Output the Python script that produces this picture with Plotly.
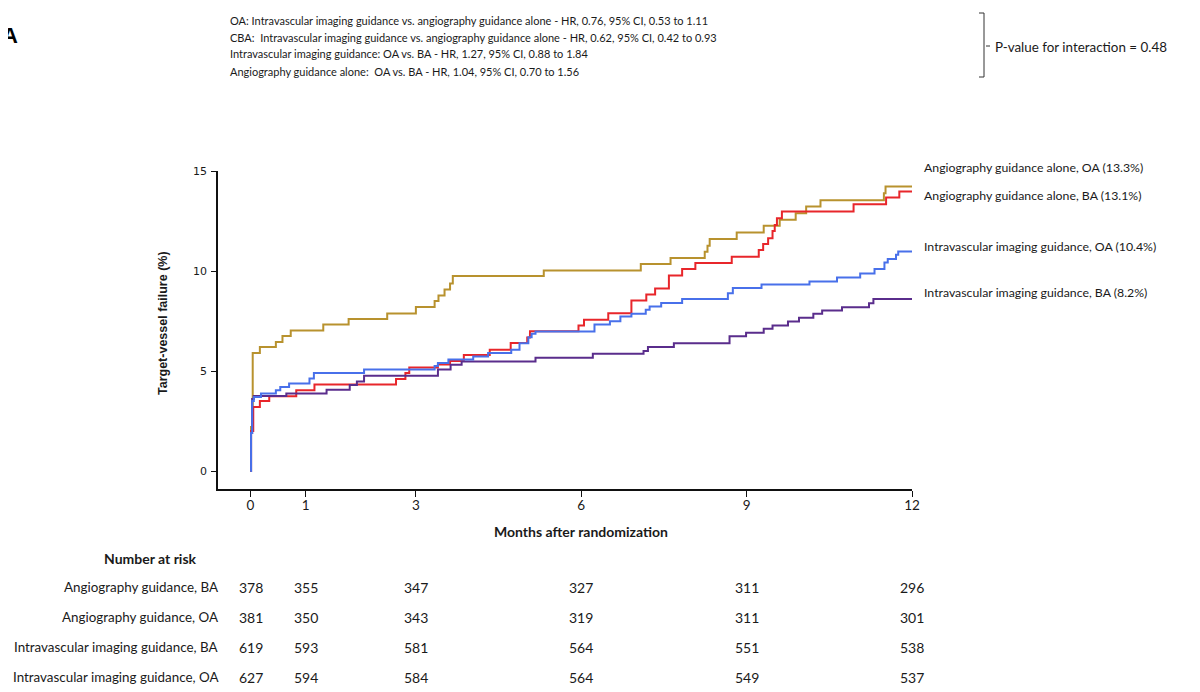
import plotly.graph_objects as go

# ---------------- data ----------------
ang_oa_t = [0, 0.01, 0.04, 0.17, 0.46, 0.58, 0.73, 1.32, 1.78, 2.48, 3.00, 3.34, 3.41, 3.52, 3.62, 3.67,
            5.32, 7.08, 7.62, 8.24, 8.29, 8.33, 8.82, 9.31, 9.60, 9.89, 10.08, 10.34, 11.49, 11.52, 12.0]
ang_oa_v = [0, 2.2, 5.9, 6.2, 6.45, 6.75, 7.02, 7.32, 7.6, 7.88, 8.2, 8.5, 8.78, 9.08, 9.38, 9.75,
            10.02, 10.35, 10.65, 10.96, 11.26, 11.6, 11.92, 12.26, 12.56, 12.89, 13.22, 13.54, 13.89, 14.22, 14.22]

ang_ba_t = [0, 0.01, 0.05, 0.17, 0.34, 0.83, 1.16, 2.64, 2.81, 2.88, 3.40, 3.62, 3.87, 4.34, 4.72, 5.02, 5.07,
            5.95, 6.05, 6.49, 6.91, 7.18, 7.34, 7.59, 7.83, 8.07, 8.73, 9.22, 9.30, 9.39, 9.47, 9.51, 9.55,
            9.64, 10.94, 11.53, 11.77, 12.0]
ang_ba_v = [0, 2.0, 3.2, 3.5, 3.74, 4.04, 4.32, 4.6, 4.9, 5.17, 5.32, 5.5, 5.8, 6.06, 6.4, 6.68, 6.99,
            7.28, 7.56, 7.89, 8.52, 8.82, 9.13, 9.77, 10.1, 10.4, 10.71, 11.05, 11.35, 11.64, 12.0, 12.3, 12.64,
            12.97, 13.34, 13.67, 13.97, 13.97]

ivi_oa_t = [0, 0.01, 0.03, 0.06, 0.19, 0.46, 0.54, 0.70, 1.07, 1.15, 2.06, 3.34, 3.40, 3.59, 4.04, 4.31,
            4.73, 4.88, 5.04, 5.10, 5.17, 6.24, 6.52, 6.71, 6.91, 7.17, 7.24, 7.45, 7.83, 8.66, 8.75, 9.27,
            10.14, 10.64, 11.06, 11.32, 11.50, 11.56, 11.71, 11.75, 12.0]
ivi_oa_v = [0, 1.9, 3.5, 3.7, 3.87, 4.04, 4.2, 4.37, 4.62, 4.9, 5.07, 5.25, 5.4, 5.57, 5.73, 5.9,
            6.06, 6.39, 6.69, 6.86, 6.98, 7.32, 7.49, 7.72, 7.86, 8.06, 8.22, 8.4, 8.6, 8.89, 9.15, 9.32,
            9.48, 9.68, 9.88, 10.1, 10.43, 10.6, 10.81, 10.98, 10.98]

ivi_ba_t = [0, 0.01, 0.03, 0.06, 0.65, 1.38, 1.80, 1.93, 2.06, 3.40, 3.63, 3.83, 5.17, 6.21, 7.13, 7.21,
            7.68, 8.69, 8.99, 9.31, 9.47, 9.75, 9.95, 10.21, 10.37, 10.73, 11.22, 11.30, 12.0]
ivi_ba_v = [0, 1.9, 3.6, 3.75, 3.87, 4.06, 4.3, 4.47, 4.76, 5.07, 5.31, 5.48, 5.66, 5.86, 6.0, 6.2,
            6.39, 6.74, 6.91, 7.11, 7.27, 7.47, 7.66, 7.86, 8.02, 8.19, 8.39, 8.6, 8.6]

curve_labels = ["Angiography guidance alone, OA (13.3%)",
                "Angiography guidance alone, BA (13.1%)",
                "Intravascular imaging guidance, OA (10.4%)",
                "Intravascular imaging guidance, BA (8.2%)"]

risk_months = [0, 1, 3, 6, 9, 12]
risk_rows = ["Angiography guidance, BA", "Angiography guidance, OA",
             "Intravascular imaging guidance, BA", "Intravascular imaging guidance, OA"]
risk_ang_ba = [378, 355, 347, 327, 311, 296]
risk_ang_oa = [381, 350, 343, 319, 311, 301]
risk_ivi_ba = [619, 593, 581, 564, 551, 538]
risk_ivi_oa = [627, 594, 584, 564, 549, 537]

header_lines = [
    "OA: Intravascular imaging guidance vs. angiography guidance alone - HR, 0.76, 95% CI, 0.53 to 1.11",
    "CBA:  Intravascular imaging guidance vs. angiography guidance alone - HR, 0.62, 95% CI, 0.42 to 0.93",
    "Intravascular imaging guidance: OA vs. BA - HR, 1.27, 95% CI, 0.88 to 1.84",
    "Angiography guidance alone:  OA vs. BA - HR, 1.04, 95% CI, 0.70 to 1.56",
]
pvalue_text = "P-value for interaction = 0.48"

# ---------------- styling / layout ----------------
OFF = 8                       # page body margin of the written html
W, H = 1200 - OFF, 692 - OFF
L, R, T, B = 218 - OFF, 912 - OFF, 171 - OFF, 489 - OFF   # plot area in figure pixels
HUM = "Lato, Open Sans, sans-serif"

def px(xp):   # page pixel -> paper x
    return (xp - OFF - L) / (R - L)

def py(yp):   # page pixel -> paper y
    return (B - (yp - OFF)) / (B - T)

gold, red, blue, purple = "#B8922E", "#E8262B", "#4870EA", "#5A2D8C"
txt = "#1a1a1a"

fig = go.Figure()
series = [(ang_oa_t, ang_oa_v, gold), (ang_ba_t, ang_ba_v, red),
          (ivi_ba_t, ivi_ba_v, purple), (ivi_oa_t, ivi_oa_v, blue)]
for t, v, c in series:
    fig.add_trace(go.Scatter(x=t, y=v, mode="lines", line=dict(color=c, width=2, shape="hv"),
                             showlegend=False, hoverinfo="skip"))

ann = []
for lab, yp in zip(curve_labels, [168, 195, 246, 292]):
    ann.append(dict(text=lab, x=px(922), y=py(yp), xref="paper", yref="paper", xanchor="left",
                    yanchor="middle", showarrow=False, font=dict(family=HUM, size=12.3, color=txt)))
for line, yp in zip(header_lines, [20, 37, 54, 72]):
    ann.append(dict(text=line, x=px(228), y=py(yp), xref="paper", yref="paper", xanchor="left",
                    yanchor="middle", showarrow=False, font=dict(family=HUM, size=11, color=txt)))
ann.append(dict(text=pvalue_text, x=px(993), y=py(47), xref="paper", yref="paper", xanchor="left",
                yanchor="middle", showarrow=False, font=dict(family=HUM, size=13.4, color=txt)))
ann.append(dict(text="<b>A</b>", x=px(20), y=py(35), xref="paper", yref="paper", xanchor="right",
                yanchor="middle", showarrow=False, font=dict(family="Liberation Sans, Arial", size=22, color="#000")))
ann.append(dict(text="<b>Target-vessel failure (%)</b>", x=px(163), y=py(323), xref="paper", yref="paper",
                xanchor="center", yanchor="middle", textangle=-90, showarrow=False,
                font=dict(family="Liberation Sans, Arial", size=12.5, color=txt)))
ann.append(dict(text="<b>Months after randomization</b>", x=px(581), y=py(531), xref="paper", yref="paper",
                xanchor="center", yanchor="middle", showarrow=False,
                font=dict(family=HUM, size=14, color=txt)))
ann.append(dict(text="<b>Number at risk</b>", x=px(150), y=py(558), xref="paper", yref="paper",
                xanchor="center", yanchor="middle", showarrow=False,
                font=dict(family=HUM, size=14, color=txt)))
for name, vals, yp in zip(risk_rows, [risk_ang_ba, risk_ang_oa, risk_ivi_ba, risk_ivi_oa],
                          [587, 617, 647, 677]):
    ann.append(dict(text=name, x=px(221), y=py(yp), xref="paper", yref="paper", xanchor="right",
                    yanchor="middle", showarrow=False, font=dict(family=HUM, size=13.4, color=txt)))
    for m, n in zip(risk_months, vals):
        ann.append(dict(text=str(n), x=m, y=py(yp), xref="x", yref="paper", xanchor="center",
                        yanchor="middle", showarrow=False, font=dict(family=HUM, size=14, color=txt)))

bc = "#333"
shapes = [
    dict(type="line", xref="paper", yref="paper", x0=px(984), x1=px(984), y0=py(13), y1=py(77),
         line=dict(color=bc, width=1)),
    dict(type="line", xref="paper", yref="paper", x0=px(979), x1=px(984), y0=py(13), y1=py(13),
         line=dict(color=bc, width=1)),
    dict(type="line", xref="paper", yref="paper", x0=px(979), x1=px(984), y0=py(77), y1=py(77),
         line=dict(color=bc, width=1)),
    dict(type="line", xref="paper", yref="paper", x0=px(986), x1=px(990), y0=py(46), y1=py(46),
         line=dict(color=bc, width=1)),
]

x0 = -(250.5 - 218) / ((912 - 250.5) / 12.0)
fig.update_layout(
    width=W, height=H,
    margin=dict(l=L, r=W - R, t=T, b=H - B, pad=0),
    paper_bgcolor="white", plot_bgcolor="white",
    annotations=ann, shapes=shapes,
    xaxis=dict(range=[x0, 12], tickvals=risk_months, ticktext=[str(m) for m in risk_months],
               showline=True, linecolor="#111", linewidth=1.5, ticks="outside", ticklen=6,
               tickcolor="#111", showgrid=False, zeroline=False, ticklabelstandoff=-3,
               tickfont=dict(family=HUM, size=13.5, color=txt)),
    yaxis=dict(range=[-0.9, 15], tickvals=[0, 5, 10, 15], showline=True, linecolor="#111", linewidth=1.5,
               ticks="outside", ticklen=5, tickcolor="#111", showgrid=False, zeroline=False,
               ticklabelstandoff=2,
               tickfont=dict(family="DejaVu Sans, Verdana", size=11, color=txt)),
)

fig.write_html("out.html")
